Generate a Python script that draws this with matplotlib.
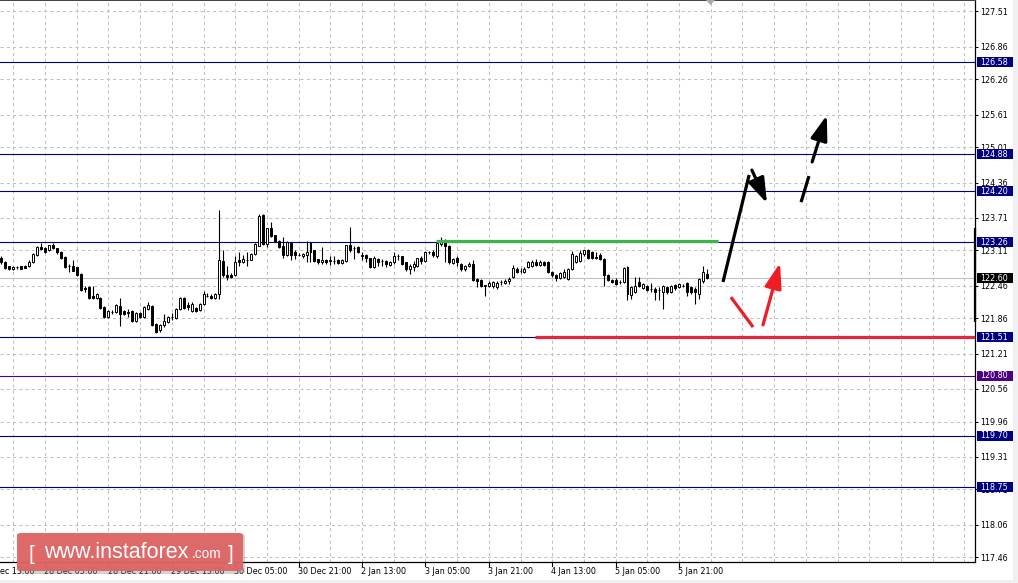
import numpy as np
import matplotlib.pyplot as plt
from matplotlib.patches import Rectangle, FancyBboxPatch, Polygon

# ==================================================================
# USDJPY H1 chart with levels and forecast arrows (MT4 look)
# ==================================================================

# hourly candles, first candle is 27 Dec 18:00, x in hours from 28 Dec 05:00
opens = [122.98, 122.905, 122.82, 122.77, 122.80, 122.82, 122.82, 122.83, 122.89, 123.02,
         123.17, 123.15, 123.11, 123.21, 123.15, 123.09, 122.99, 122.83, 122.83, 122.80,
         122.68, 122.42, 122.43, 122.28, 122.23, 122.24, 122.07, 121.88, 121.98, 121.97,
         122.08, 122.00, 121.97, 121.99, 121.82, 121.96, 121.88, 122.04, 122.09, 121.75,
         121.64, 121.73, 121.80, 121.88, 121.87, 122.04, 122.23, 122.11, 121.99, 122.05,
         122.01, 122.13, 122.28, 122.28, 122.23, 122.31, 122.92, 122.66, 122.66, 122.66,
         122.93, 122.90, 122.94, 122.94, 123.05, 123.20, 123.76, 123.23, 123.52, 123.39,
         123.29, 123.19, 123.03, 123.25, 123.08, 123.03, 123.00, 123.03, 123.25, 123.11,
         122.95, 122.89, 122.94, 122.91, 122.91, 122.94, 122.88, 122.91, 123.21, 123.16,
         123.17, 123.01, 123.03, 122.97, 122.80, 122.95, 122.92, 122.92, 122.84, 122.89,
         123.00, 123.00, 122.89, 122.77, 122.81, 122.82, 122.98, 122.91, 123.08, 123.08,
         123.00, 123.23, 123.26, 123.20, 122.88, 122.97, 122.86, 122.76, 122.82, 122.86,
         122.59, 122.57, 122.46, 122.45, 122.45, 122.44, 122.53, 122.52, 122.54, 122.62,
         122.77, 122.74, 122.72, 122.80, 122.83, 122.90, 122.84, 122.89, 122.89, 122.71,
         122.66, 122.60, 122.62, 122.59, 122.77, 122.90, 122.92, 123.05, 123.11, 123.08,
         122.99, 123.02, 122.95, 122.66, 122.57, 122.57, 122.53, 122.53, 122.80, 122.29,
         122.34, 122.53, 122.42, 122.45, 122.40, 122.40, 122.39, 122.34, 122.43, 122.34,
         122.47, 122.43, 122.46, 122.52, 122.43, 122.40, 122.31, 122.54, 122.68]
highs = [123.00, 122.92, 122.83, 122.83, 122.82, 122.83, 122.84, 122.93, 123.06, 123.20,
         123.25, 123.17, 123.22, 123.24, 123.16, 123.10, 123.01, 122.86, 122.94, 122.81,
         122.70, 122.45, 122.45, 122.45, 122.33, 122.26, 122.08, 122.01, 122.02, 122.12,
         122.24, 122.02, 122.04, 122.01, 121.98, 121.98, 122.09, 122.16, 122.11, 121.77,
         121.75, 121.94, 121.90, 121.95, 122.06, 122.25, 122.25, 122.16, 122.16, 122.07,
         122.15, 122.37, 122.33, 122.30, 122.33, 123.85, 123.11, 122.83, 122.70, 123.01,
         123.08, 123.03, 123.08, 123.07, 123.25, 123.78, 123.78, 123.53, 123.64, 123.40,
         123.30, 123.35, 123.29, 123.27, 123.11, 123.06, 123.07, 123.28, 123.26, 123.12,
         122.96, 123.17, 122.96, 123.01, 123.00, 122.96, 122.95, 123.22, 123.55, 123.20,
         123.19, 123.08, 123.04, 122.98, 123.00, 122.98, 122.95, 122.93, 122.92, 123.09,
         123.05, 123.01, 122.90, 122.86, 122.92, 122.98, 123.00, 123.10, 123.10, 123.11,
         123.25, 123.35, 123.33, 123.21, 122.97, 123.01, 122.88, 122.84, 122.89, 122.94,
         122.60, 122.58, 122.48, 122.54, 122.55, 122.54, 122.56, 122.58, 122.62, 122.84,
         122.80, 122.78, 122.80, 122.92, 122.93, 122.95, 122.93, 122.91, 122.91, 122.73,
         122.68, 122.71, 122.76, 122.79, 123.10, 123.03, 123.11, 123.12, 123.13, 123.10,
         123.08, 123.06, 122.97, 122.68, 122.59, 122.60, 122.56, 122.80, 122.82, 122.45,
         122.62, 122.62, 122.52, 122.47, 122.52, 122.43, 122.43, 122.47, 122.45, 122.48,
         122.50, 122.51, 122.50, 122.53, 122.45, 122.43, 122.61, 122.83, 122.77]
lows = [122.87, 122.76, 122.75, 122.75, 122.77, 122.76, 122.78, 122.81, 122.88, 123.00,
        123.12, 123.06, 123.10, 123.14, 123.05, 122.95, 122.78, 122.72, 122.73, 122.64,
        122.37, 122.34, 122.22, 122.22, 122.21, 122.04, 121.86, 121.86, 121.94, 121.95,
        121.72, 121.92, 121.88, 121.80, 121.80, 121.86, 121.86, 122.02, 121.72, 121.59,
        121.60, 121.71, 121.78, 121.83, 121.85, 122.02, 122.03, 122.02, 121.97, 121.97,
        121.99, 122.11, 122.25, 122.22, 122.22, 122.22, 122.62, 122.56, 122.60, 122.64,
        122.83, 122.88, 122.83, 122.93, 123.03, 123.19, 123.22, 123.17, 123.35, 123.27,
        123.15, 122.97, 123.01, 122.94, 122.95, 123.00, 122.98, 122.89, 122.90, 122.90,
        122.87, 122.86, 122.87, 122.84, 122.86, 122.86, 122.86, 122.90, 123.09, 122.95,
        123.06, 122.94, 122.90, 122.78, 122.78, 122.83, 122.83, 122.80, 122.82, 122.87,
        122.93, 122.85, 122.74, 122.68, 122.74, 122.80, 122.86, 122.89, 123.05, 122.99,
        122.98, 123.20, 122.90, 122.87, 122.86, 122.83, 122.74, 122.74, 122.80, 122.55,
        122.43, 122.43, 122.28, 122.43, 122.42, 122.40, 122.48, 122.50, 122.50, 122.60,
        122.69, 122.70, 122.70, 122.78, 122.81, 122.82, 122.82, 122.82, 122.69, 122.63,
        122.54, 122.58, 122.60, 122.57, 122.75, 122.88, 122.90, 123.01, 122.95, 122.95,
        122.95, 122.94, 122.46, 122.54, 122.51, 122.48, 122.50, 122.51, 122.19, 122.22,
        122.32, 122.43, 122.40, 122.37, 122.34, 122.19, 122.19, 122.04, 122.30, 122.32,
        122.39, 122.41, 122.43, 122.28, 122.31, 122.13, 122.22, 122.52, 122.59]
closes = [122.89, 122.78, 122.76, 122.81, 122.80, 122.77, 122.79, 122.90, 123.05, 123.17,
          123.13, 123.08, 123.21, 123.15, 123.08, 122.97, 122.80, 122.82, 122.74, 122.66,
          122.39, 122.40, 122.23, 122.23, 122.30, 122.05, 121.88, 121.99, 121.97, 122.10,
          121.94, 121.94, 121.96, 121.82, 121.96, 121.88, 122.07, 122.11, 121.73, 121.61,
          121.73, 121.82, 121.88, 121.89, 122.04, 122.23, 122.05, 122.07, 122.13, 121.99,
          122.13, 122.31, 122.28, 122.23, 122.31, 122.94, 122.66, 122.62, 122.62, 122.90,
          122.89, 122.96, 122.94, 123.05, 123.23, 123.75, 123.23, 123.52, 123.38, 123.29,
          123.17, 123.03, 123.27, 123.03, 123.02, 123.03, 123.045, 123.08, 123.08, 122.92,
          122.89, 122.94, 122.89, 122.94, 122.91, 122.88, 122.93, 123.21, 123.11, 123.16,
          123.08, 123.03, 122.97, 122.80, 122.98, 122.90, 122.92, 122.86, 122.90, 123.01,
          123.00, 122.87, 122.76, 122.83, 122.86, 122.97, 122.92, 123.08, 123.08, 123.02,
          123.24, 123.26, 123.20, 122.89, 122.95, 122.89, 122.76, 122.82, 122.87, 122.56,
          122.54, 122.45, 122.47, 122.52, 122.53, 122.52, 122.53, 122.55, 122.59, 122.78,
          122.72, 122.74, 122.77, 122.89, 122.90, 122.84, 122.90, 122.84, 122.71, 122.66,
          122.60, 122.69, 122.71, 122.77, 123.05, 123.01, 123.06, 123.11, 122.97, 122.97,
          122.98, 122.95, 122.66, 122.56, 122.53, 122.50, 122.53, 122.78, 122.31, 122.43,
          122.45, 122.46, 122.50, 122.39, 122.40, 122.34, 122.39, 122.45, 122.34, 122.46,
          122.41, 122.49, 122.46, 122.34, 122.34, 122.34, 122.59, 122.71, 122.60]
first_hour = -11

# time axis labels (every 16 hours)
date_ticks = [-16, 0, 16, 32, 48, 64, 80, 96, 112, 128, 144, 160]
date_labels = ['27 Dec 13:00', '28 Dec 05:00', '28 Dec 21:00', '29 Dec 13:00',
               '30 Dec 05:00', '30 Dec 21:00', '2 Jan 13:00', '3 Jan 05:00',
               '3 Jan 21:00', '4 Jan 13:00', '5 Jan 05:00', '5 Jan 21:00']

# price scale
price_ticks = [127.51, 126.86, 126.26, 125.61, 125.01, 124.36, 123.71, 123.11, 122.46,
               121.86, 121.21, 120.56, 119.96, 119.31, 118.71, 118.06, 117.46]

# horizontal levels
levels = [126.58, 124.88, 124.20, 123.26, 121.51, 120.80, 119.70, 118.75]
level_colors = ['#000080', '#000080', '#000080', '#000080', '#000080', '#4b0082',
                '#000080', '#000080']
bid = 122.60

# support / resistance segments
green_x = [98.7, 169.8]
green_y = 123.28
red_x = [123.7, 240]
red_y = 121.51

# forecast arrows: (x0, y0, x1, y1)
black_leg = (171.1, 122.53, 177.7, 124.50)
black_arrow = (178.4, 124.59, 182.2, 123.98)
dash_leg = (190.8, 124.00, 192.8, 124.48)
dash_arrow = (193.6, 124.74, 197.3, 125.60)
red_leg = (173.1, 122.25, 178.7, 121.70)
red_arrow = (181.2, 121.74, 185.5, 122.88)

# day range bar on the price scale
range_bar = [121.80, 123.52]

W, H = 1018, 583
fig = plt.figure(figsize=(W / 100, H / 100), dpi=100)
ax = fig.add_axes([0, 21 / H, 975 / W, 1 - 21 / H])
ax.set_xlim(-11.36, 234.7)
ax.set_ylim(117.3745, 127.7215)

font = 'DejaVu Sans'
fs = 5.8

# grid
ax.set_xticks(np.arange(-8, 236, 8))
ax.set_yticks(price_ticks)
ax.set_yticklabels(['%.2f' % p for p in price_ticks], fontsize=fs, family=font)
ax.grid(True, color='#c0c0c0', linestyle=(0, (3, 3)), linewidth=0.75)
ax.yaxis.tick_right()
ax.tick_params(axis='y', direction='out', length=2.2, width=0.75, pad=1.6, colors='black')
ax.tick_params(axis='x', length=0, labelbottom=False)
ax.spines['left'].set_visible(False)
ax.spines['top'].set_color('#404040')
ax.spines['top'].set_linewidth(0.7)
for s in ['right', 'bottom']:
    ax.spines[s].set_color('black')
    ax.spines[s].set_linewidth(0.9)

# level lines
for lv, col in zip(levels, level_colors):
    ax.axhline(lv, color=col, lw=0.8, zorder=2)
ax.axhline(bid, color='#c0c0c0', lw=0.8, zorder=2)

# candles
x = np.arange(len(opens)) + first_hour
o = np.array(opens)
c = np.array(closes)
ax.vlines(x, lows, highs, color='black', lw=0.8, zorder=3)
body_lo = np.minimum(o, c)
body_h = np.abs(c - o)
face = ['white' if cc > oo else 'black' for oo, cc in zip(o, c)]
ax.bar(x, body_h, bottom=body_lo, width=0.5, color=face, edgecolor='black',
       linewidth=0.7, zorder=4)

# segments
ax.plot(green_x, [green_y, green_y], color='#3cb44a', lw=2.3, solid_capstyle='butt', zorder=5)
ax.plot(red_x, [red_y, red_y], color='#e2283a', lw=2.3, solid_capstyle='butt', zorder=5)


def leg(seg, col):
    ax.plot([seg[0], seg[2]], [seg[1], seg[3]], color=col, lw=2.3,
            solid_capstyle='butt', zorder=6)


def arrow(seg, col):
    ax.annotate('', xy=(seg[2], seg[3]), xytext=(seg[0], seg[1]), zorder=6,
                arrowprops=dict(arrowstyle='-|>,head_length=0.95,head_width=0.32',
                                color=col, lw=2.3, mutation_scale=16,
                                shrinkA=0, shrinkB=0))


leg(black_leg, 'black')
arrow(black_arrow, 'black')
leg(dash_leg, 'black')
arrow(dash_arrow, 'black')
leg(red_leg, '#ee1c25')
arrow(red_arrow, '#ee1c25')

# price scale extras
yax = ax.get_yaxis_transform()
ax.plot([1.0, 1.0], range_bar, color='black', lw=1.6, transform=yax, clip_on=False,
        zorder=6, solid_capstyle='butt')
box_h = 0.092
for lv, col in zip(levels + [bid], level_colors + ['black']):
    ax.add_patch(Rectangle((977 / 975, lv - box_h), 36 / 975, 2 * box_h, transform=yax,
                           facecolor=col, edgecolor='none', clip_on=False, zorder=7))
    ax.text(980.5 / 975, lv, '%.2f' % lv, transform=yax, color='white', fontsize=fs,
            family=font, ha='left', va='center', zorder=8, clip_on=False)

# time labels
xax = ax.get_xaxis_transform()
for t, lab in zip(date_ticks, date_labels):
    ax.plot([t, t], [0, -4 / 562], color='black', lw=0.8, transform=xax, clip_on=False)
    ax.text(t - 0.2, -5 / 562, lab, transform=xax, fontsize=fs, family=font,
            ha='left', va='top', clip_on=False)

# window edges
fig.patches.append(Rectangle((0, 0), 1, 3 / H, transform=fig.transFigure,
                             facecolor='#f0f0f0', edgecolor='none', zorder=0))
fig.patches.append(Rectangle((1013 / W, 0), 5 / W, 1, transform=fig.transFigure,
                             facecolor='#f0f0f0', edgecolor='none', zorder=0))
fig.patches.append(Polygon([(706 / W, 1), (715 / W, 1), (710.5 / W, 1 - 5 / H)],
                           closed=True, transform=fig.transFigure,
                           facecolor='#a8a8a8', edgecolor='none', zorder=10))

# logo
px = lambda v: v / W
py = lambda v: (H - v) / H
shadow = FancyBboxPatch((px(19), py(574)), px(226), 40 / H,
                        boxstyle='round,pad=0,rounding_size=0.004',
                        transform=fig.transFigure, facecolor='#808080', alpha=0.35,
                        edgecolor='none', zorder=20)
logo = FancyBboxPatch((px(17), py(571)), px(226), 38 / H,
                      boxstyle='round,pad=0,rounding_size=0.004',
                      transform=fig.transFigure, facecolor='#df6464', alpha=0.95,
                      edgecolor='none', zorder=21)
fig.patches.extend([shadow, logo])
lf = 'Liberation Sans'
fig.text(px(29), py(560), '[', color='white', fontsize=15, family=lf, va='baseline', zorder=22)
fig.text(px(44), py(558), 'www.instaforex', color='white', fontsize=15.5, family=lf,
         va='baseline', zorder=22)
fig.text(px(192), py(558), '.com', color='white', fontsize=9.8, family=lf,
         va='baseline', zorder=22)
fig.text(px(228), py(560), ']', color='white', fontsize=15, family=lf, va='baseline', zorder=22)

fig.savefig('out.png', dpi=100)
